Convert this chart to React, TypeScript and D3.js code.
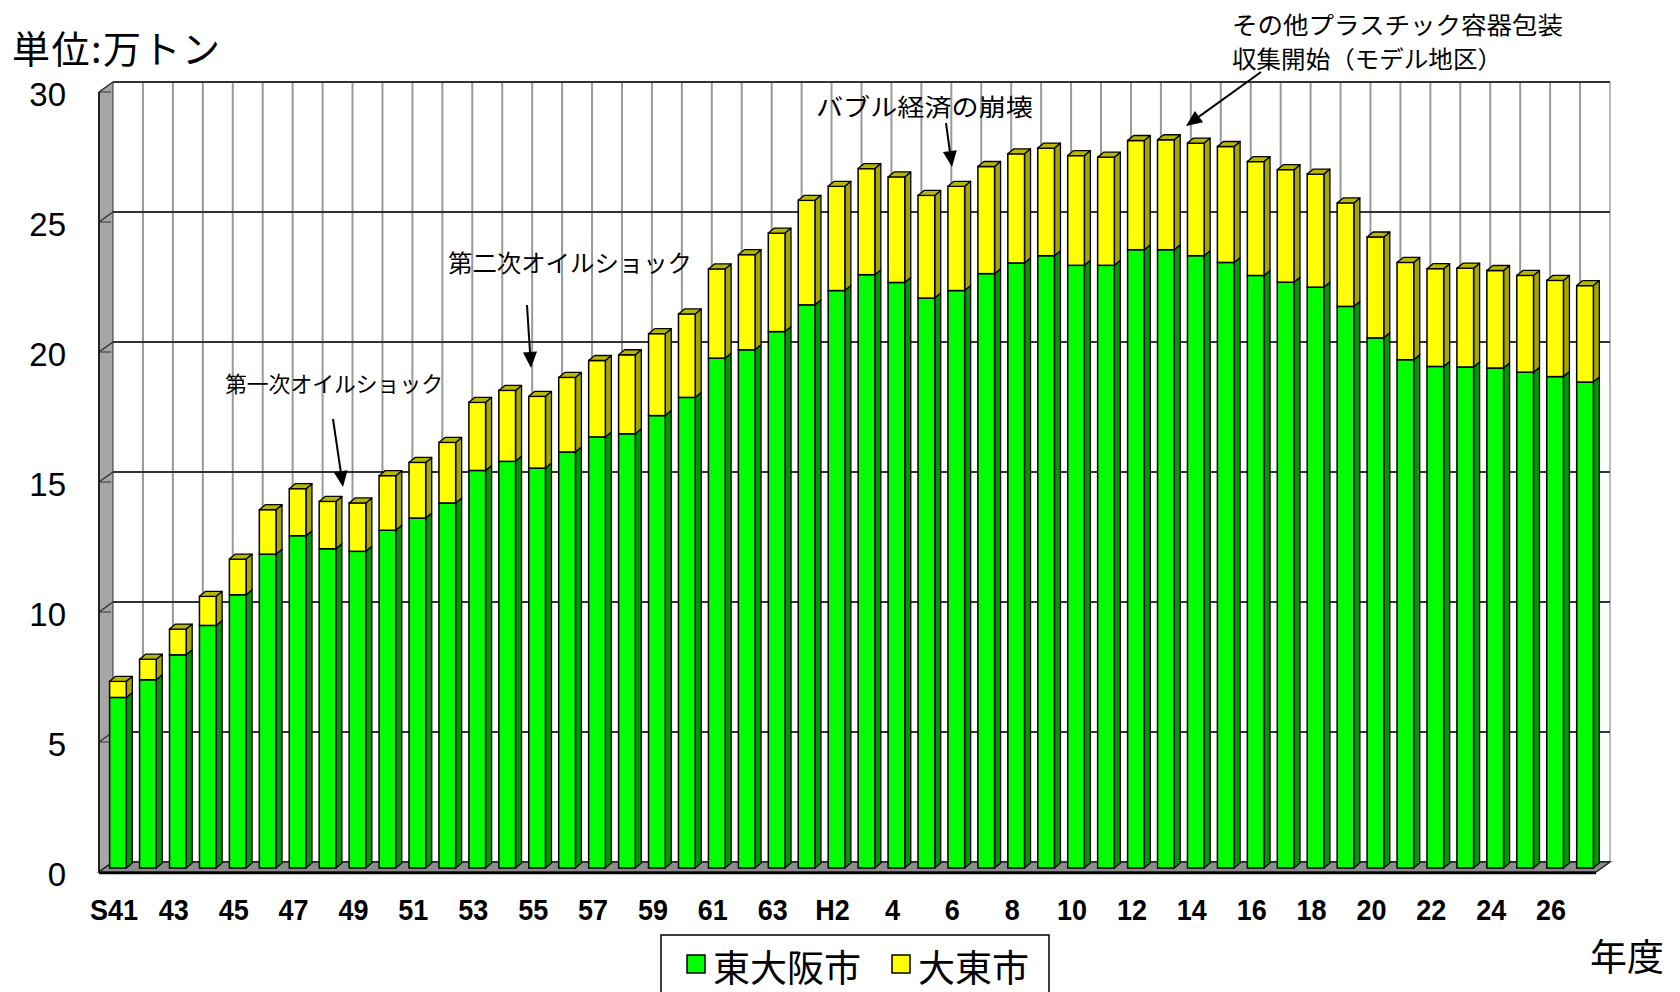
import React from 'react';
import * as d3 from 'd3';

// 年度 (昭和41年度〜平成27年度)
const fiscalYears = [
  'S41', 'S42', 'S43', 'S44', 'S45', 'S46', 'S47', 'S48', 'S49', 'S50',
  'S51', 'S52', 'S53', 'S54', 'S55', 'S56', 'S57', 'S58', 'S59', 'S60',
  'S61', 'S62', 'S63', 'H1', 'H2', 'H3', 'H4', 'H5', 'H6', 'H7',
  'H8', 'H9', 'H10', 'H11', 'H12', 'H13', 'H14', 'H15', 'H16', 'H17',
  'H18', 'H19', 'H20', 'H21', 'H22', 'H23', 'H24', 'H25', 'H26', 'H27',
];

// 東大阪市 (万トン)
const higashiosaka = [
  6.56, 7.24, 8.20, 9.33, 10.51, 12.07, 12.78, 12.28, 12.18, 12.99,
  13.46, 14.04, 15.29, 15.64, 15.38, 16.00, 16.58, 16.70, 17.40, 18.10,
  19.61, 19.93, 20.63, 21.66, 22.21, 22.82, 22.52, 21.92, 22.21, 22.86,
  23.27, 23.55, 23.18, 23.18, 23.78, 23.78, 23.55, 23.29, 22.79, 22.53,
  22.34, 21.60, 20.39, 19.55, 19.29, 19.27, 19.23, 19.07, 18.90, 18.69,
];

// 大東市 (万トン)
const daito = [
  0.62, 0.79, 0.99, 1.12, 1.37, 1.71, 1.81, 1.82, 1.86, 2.10,
  2.14, 2.33, 2.62, 2.73, 2.76, 2.87, 2.94, 3.04, 3.15, 3.21,
  3.43, 3.66, 3.79, 4.02, 4.01, 4.08, 4.06, 3.95, 4.01, 4.12,
  4.20, 4.14, 4.22, 4.16, 4.20, 4.23, 4.33, 4.46, 4.38, 4.33,
  4.35, 3.98, 3.88, 3.74, 3.76, 3.80, 3.75, 3.72, 3.70, 3.71,
];

const tickYears = [
  'S41', 'S43', 'S45', 'S47', 'S49', 'S51', 'S53', 'S55', 'S57', 'S59', 'S61', 'S63',
  'H2', 'H4', 'H6', 'H8', 'H10', 'H12', 'H14', 'H16', 'H18', 'H20', 'H22', 'H24', 'H26',
];
const tickLabels = [
  'S41', '43', '45', '47', '49', '51', '53', '55', '57', '59', '61', '63',
  'H2', '4', '6', '8', '10', '12', '14', '16', '18', '20', '22', '24', '26',
];
const yTicks = [0, 5, 10, 15, 20, 25, 30];

const seriesNames = ['東大阪市', '大東市'];

const JP = '"Noto Sans CJK JP", "Noto Sans CJK SC", sans-serif';
const NUM = '"Liberation Sans", Arial, sans-serif';

function arrow(x1: number, y1: number, x2: number, y2: number) {
  const a = Math.atan2(y2 - y1, x2 - x1);
  const len = 16, half = 7;
  const bx = x2 - len * Math.cos(a), by = y2 - len * Math.sin(a);
  const px = -Math.sin(a) * half, py = Math.cos(a) * half;
  return (
    <g>
      <line x1={x1} y1={y1} x2={bx} y2={by} stroke="#000" strokeWidth={2} />
      <polygon points={`${x2},${y2} ${bx + px},${by + py} ${bx - px},${by - py}`} fill="#000" />
    </g>
  );
}

export default function App() {
  const W = 1680, H = 992;
  // front plane of the floor / walls
  const fx0 = 99, fx1 = 1596;
  const ddx = 14; // wall depth (x)

  const x = d3.scaleBand<string>().domain(fiscalYears).range([fx0, fx1]);
  const step = x.step();
  const yFront = d3.scaleLinear().domain([0, 30]).range([872, 92]);
  const yBack = d3.scaleLinear().domain([0, 30]).range([862, 82]);
  const yBar = d3.scaleLinear().domain([0, 30]).range([868, 88]);

  const bw = 16.7;
  const sdx = 6, sdy = -5; // bar depth
  const barX = (c: string) => (x(c) as number) + (step - bw) / 2 + 4;

  const rows = fiscalYears.map((year, i) => ({ year, h: higashiosaka[i], d: daito[i] }));
  const stacked = d3.stack<any>().keys(['h', 'd'])(rows);
  const fills = [
    { front: '#00ff00', side: '#009a00', top: '#00c000' },
    { front: '#ffff00', side: '#a6a600', top: '#b8b800' },
  ];

  const bx0 = fx0 + ddx, bx1 = fx1 + ddx;

  return (
    <svg width={W} height={H} style={{ position: 'absolute', left: 0, top: 0, background: '#fff' }}>
      {/* back wall */}
      <rect x={bx0} y={yBack(30)} width={bx1 - bx0} height={yBack(0) - yBack(30)} fill="#fff" />
      {fiscalYears.slice(1).map((c) => (
        <line key={'v' + c} x1={(x(c) as number) + ddx} x2={(x(c) as number) + ddx}
          y1={yBack(30)} y2={yBack(0)} stroke="#999" strokeWidth={2} />
      ))}
      <line x1={bx1} x2={bx1} y1={yBack(30)} y2={yBack(0)} stroke="#bbb" strokeWidth={2} />

      {/* left wall */}
      <polygon
        points={`${fx0},${yFront(30)} ${bx0},${yBack(30)} ${bx0},${yBack(0)} ${fx0},${yFront(0)}`}
        fill="#a6a6a6" stroke="#333" strokeWidth={1} />

      {yTicks.map((t) => (
        <g key={'h' + t}>
          <line x1={bx0} x2={bx1} y1={yBack(t)} y2={yBack(t)} stroke="#333" strokeWidth={2.2} />
          <line x1={bx0} x2={fx0} y1={yBack(t)} y2={yFront(t)} stroke="#333" strokeWidth={1.5} />
          <line x1={fx0} x2={fx0 + 12} y1={yFront(t)} y2={yFront(t)} stroke="#333" strokeWidth={1} />
        </g>
      ))}
      <line x1={fx0} x2={fx0} y1={yFront(30)} y2={yFront(0)} stroke="#222" strokeWidth={2} />

      {/* floor */}
      <polygon
        points={`${fx0},${yFront(0)} ${fx1},${yFront(0)} ${bx1},${yBack(0)} ${bx0},${yBack(0)}`}
        fill="#8c8c8c" stroke="#222" strokeWidth={1.5} />
      <line x1={fx0} x2={fx1} y1={yFront(0) + 1} y2={yFront(0) + 1} stroke="#000" strokeWidth={2.5} />

      {/* bars */}
      {fiscalYears.map((c, i) => {
        const x0 = barX(c);
        return (
          <g key={'b' + c}>
            {stacked.map((s, k) => {
              const v0 = s[i][0], v1 = s[i][1];
              const yt = yBar(v1), yb = yBar(v0);
              const f = fills[k];
              return (
                <g key={k}>
                  <polygon
                    points={`${x0 + bw},${yt} ${x0 + bw + sdx},${yt + sdy} ${x0 + bw + sdx},${yb + sdy} ${x0 + bw},${yb}`}
                    fill={f.side} stroke="#000" strokeWidth={1.3} strokeLinejoin="round" />
                  <rect x={x0} y={yt} width={bw} height={yb - yt} fill={f.front} stroke="#000" strokeWidth={1.5} />
                  {k === stacked.length - 1 && (
                    <polygon
                      points={`${x0},${yt} ${x0 + sdx},${yt + sdy} ${x0 + bw + sdx},${yt + sdy} ${x0 + bw},${yt}`}
                      fill={f.top} stroke="#000" strokeWidth={1.3} strokeLinejoin="round" />
                  )}
                </g>
              );
            })}
          </g>
        );
      })}

      {/* y axis labels */}
      {yTicks.map((t) => (
        <text key={'yl' + t} x={66} y={yFront(t) + 2} textAnchor="end" dominantBaseline="central"
          fontFamily={NUM} fontSize={33}>{t}</text>
      ))}

      {/* x axis labels */}
      {tickYears.map((c, i) => (
        <text key={'xl' + c}
          transform={`translate(${(x(c) as number) + step / 2},920) scale(0.9,1)`}
          textAnchor="middle" fontFamily={NUM} fontWeight="bold" fontSize={30}>{tickLabels[i]}</text>
      ))}

      {/* unit / axis titles */}
      <text x={12} y={46} dominantBaseline="central" fontFamily={JP} fontSize={38}
        textLength={208} lengthAdjust="spacing">単位:万トン</text>
      <text x={1590} y={955} dominantBaseline="central" fontFamily={JP} fontSize={37}>年度</text>

      {/* annotations */}
      <text x={225} y={382} dominantBaseline="central" fontFamily={JP} fontSize={22}
        textLength={218} lengthAdjust="spacingAndGlyphs">第一次オイルショック</text>
      {arrow(333, 419, 343, 487)}
      <text x={448} y={261} dominantBaseline="central" fontFamily={JP} fontSize={24}
        textLength={244} lengthAdjust="spacingAndGlyphs">第二次オイルショック</text>
      {arrow(527, 305, 531, 368)}
      <text x={816} y={105} dominantBaseline="central" fontFamily={JP} fontSize={24}
        textLength={217} lengthAdjust="spacingAndGlyphs">バブル経済の崩壊</text>
      {arrow(946, 123, 952, 167)}
      <text x={1232} y={23} dominantBaseline="central" fontFamily={JP} fontSize={24}
        textLength={331} lengthAdjust="spacingAndGlyphs">その他プラスチック容器包装</text>
      <text x={1232} y={57} dominantBaseline="central" fontFamily={JP} fontSize={24}
        textLength={270} lengthAdjust="spacingAndGlyphs">収集開始（モデル地区）</text>
      {arrow(1261, 72, 1186, 126)}

      {/* legend */}
      <rect x={661} y={935} width={388} height={80} fill="#fff" stroke="#000" strokeWidth={1.5} />
      {seriesNames.map((n, k) => {
        const lx = k === 0 ? 687 : 892;
        return (
          <g key={n}>
            <rect x={lx} y={955} width={18} height={18} fill={fills[k].front} stroke="#000" strokeWidth={1.5} />
            <text x={lx + 26} y={966} dominantBaseline="central" fontFamily={JP} fontSize={37}>{n}</text>
          </g>
        );
      })}
    </svg>
  );
}
